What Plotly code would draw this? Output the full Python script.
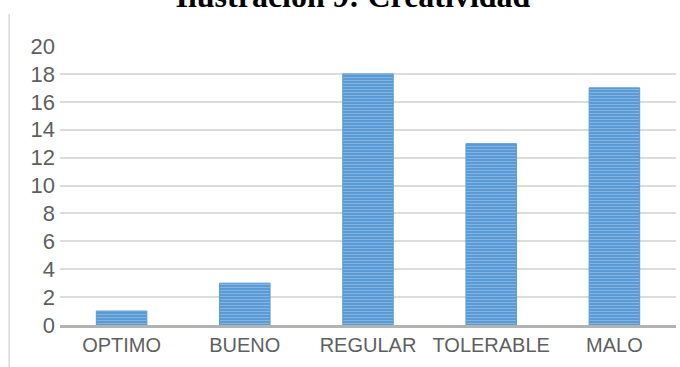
import plotly.graph_objects as go

categories = ["OPTIMO", "BUENO", "REGULAR", "TOLERABLE", "MALO"]
counts = [1, 3, 18, 13, 17]
y_ticks = list(range(0, 21, 2))

fig = go.Figure()
fig.add_trace(go.Bar(
    x=categories,
    y=counts,
    marker=dict(
        color="#5b9bd5",
        line=dict(color="#5b9bd5", width=1),
        pattern=dict(shape="-", fgcolor="#a9cff2", bgcolor="#5b9bd5",
                     size=3, solidity=0.35),
    ),
    hoverinfo="x+y",
))

# thin frame line on the left side of the figure
fig.add_shape(type="line", xref="paper", yref="paper",
              x0=-0.0825, x1=-0.0825, y0=1.115, y1=-0.16,
              line=dict(color="#d9d9d9", width=1.5))

fig.update_layout(
    width=680, height=367,
    margin=dict(l=60, r=4, t=46, b=42),
    paper_bgcolor="white", plot_bgcolor="white",
    bargap=0.59,
    showlegend=False,
    title=dict(
        text="<b>Ilustración 9: Creatividad</b>",
        font=dict(family="Liberation Serif", size=32, color="black"),
        x=0.519, xanchor="center", xref="container",
        y=0.981, yanchor="bottom", yref="container",
    ),
    xaxis=dict(
        showline=True, linecolor="#b3b3b0", linewidth=3,
        showgrid=False, ticks="",
        tickfont=dict(family="Liberation Sans", size=20, color="#5f5f5f"),
    ),
    yaxis=dict(
        range=[0, 20], tickvals=y_ticks,
        showgrid=True, gridcolor="#dcdcdc", gridwidth=1.5,
        zeroline=False, showline=False, ticks="",
        ticklabelstandoff=4,
        tickfont=dict(family="Liberation Sans", size=22, color="#5f5f5f"),
    ),
)

fig.write_html("out.html")
